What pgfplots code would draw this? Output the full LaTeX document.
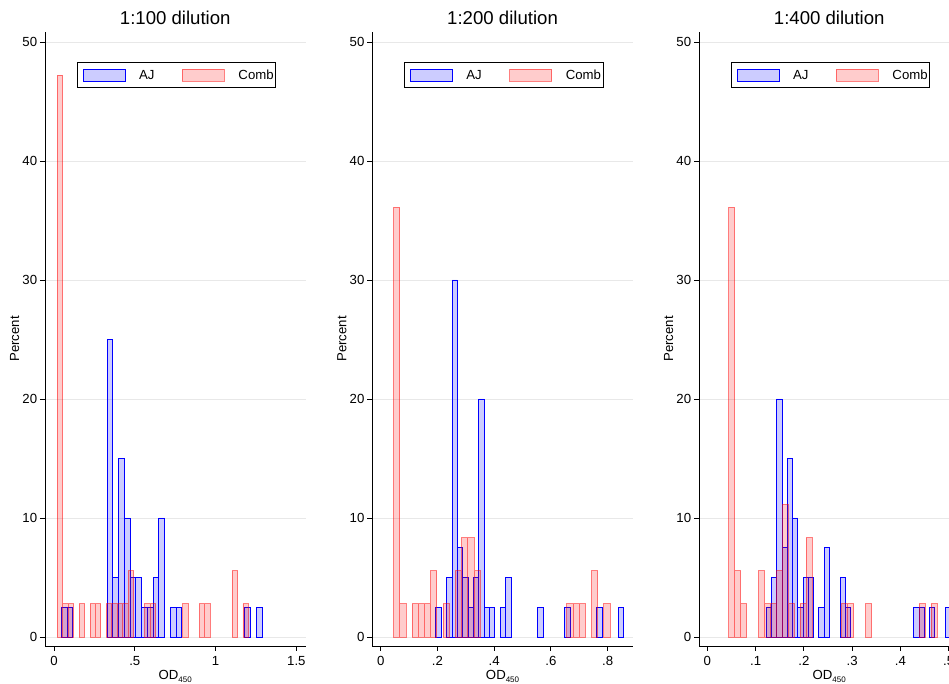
\documentclass[border=0pt]{standalone}
\usepackage{fontspec}
\setmainfont{Liberation Sans}
\usepackage{pgfplots}
\pgfplotsset{compat=1.18}
\definecolor{gridc}{RGB}{232,232,232}
\pgfplotsset{
  panel/.style={
    scale only axis, width=260.5pt, height=614pt, anchor=south west,
    ymin=-0.76, ymax=50.84,
    axis x line*=bottom, axis y line*=left,
    axis line style={black, line width=0.9pt},
    ytick={0,10,20,30,40,50}, yticklabels={0,10,20,30,40,50},
    ymajorgrids,
    grid style={gridc, line width=0.9pt},
    tick align=outside, major tick length=5pt,
    tick style={black, line width=0.9pt},
    minor tick num=0,
    tick label style={font=\fontsize{13.2}{15}\selectfont},
    yticklabel style={inner xsep=2.7pt},
    xticklabel style={inner ysep=5.5pt},
    /pgf/number format/assume math mode=true,
    title style={font=\fontsize{18.6}{22}\selectfont, at={(axis description cs:0.5,1)}, anchor=base, yshift=1pt},
    xlabel={OD\raisebox{-3pt}{\fontsize{8}{9}\selectfont 450}},
    xlabel style={font=\fontsize{13.2}{15}\selectfont, at={(axis description cs:0.5,0)}, anchor=base, yshift=-33.5pt},
    ylabel={Percent},
    ylabel style={font=\fontsize{13.2}{15}\selectfont, at={(axis description cs:-0.0998,0.5)}, anchor=base},
    legend columns=2,
    legend style={at={(axis description cs:0.1216,0.9507)}, anchor=north west, draw=black, line width=0.8pt, fill=white, inner xsep=2pt, inner ysep=6pt, font=\fontsize{13.2}{15}\selectfont, nodes={inner sep=0pt, text depth=0pt}, cells={anchor=west}, /tikz/every even column/.append style={column sep=24pt}},
    legend image code/.code={
      \draw[##1, line width=0.9pt] (4pt,-6pt) rectangle (46pt,6pt);
      \path[draw=none, fill=none] (0pt,0pt) -- (60pt,0pt);
    },
  },
  ajbar/.style={ybar, bar shift=0pt, draw=blue, fill=blue, fill opacity=0.2, draw opacity=1, line width=0.9pt},
  combbar/.style={ybar, bar shift=0pt, draw=red, draw opacity=0.5, fill=red, fill opacity=0.2, line width=0.9pt},
}
\begin{document}
\begin{tikzpicture}
\useasboundingbox (0pt,0pt) rectangle (949pt,684pt);
% ---------- 1:100 ----------
\begin{axis}[panel, at={(45pt,38pt)}, xmin=-0.0557, xmax=1.5563,
  xtick={0,0.5,1,1.5}, xticklabels={0,.5,1,1.5}, title={1:100 dilution}]
\addplot[ajbar, bar width=0.0355] coordinates {
(0.063,2.5)(0.0985,2.5)(0.347,25)(0.3825,5)(0.418,15)(0.4535,10)(0.489,5)(0.5245,5)
(0.56,2.5)(0.5955,2.5)(0.631,5)(0.6665,10)(0.7375,2.5)(0.773,2.5)(1.199,2.5)(1.270,2.5)};
\addplot[combbar, bar width=0.0338] coordinates {
(0.037,47.2222)(0.0708,2.7778)(0.1046,2.7778)(0.1722,2.7778)(0.2398,2.7778)(0.2736,2.7778)
(0.3412,2.7778)(0.375,2.7778)(0.4088,2.7778)(0.4426,2.7778)(0.4764,5.5556)(0.5778,2.7778)
(0.6116,2.7778)(0.8144,2.7778)(0.9158,2.7778)(0.9496,2.7778)(1.1186,5.5556)(1.1862,2.7778)};
\legend{AJ,Comb}
\end{axis}
% ---------- 1:200 ----------
\begin{axis}[panel, at={(372.3pt,38pt)}, xmin=-0.0295, xmax=0.8885,
  xtick={0,0.2,0.4,0.6,0.8}, xticklabels={0,.2,.4,.6,.8}, title={1:200 dilution}]
\addplot[ajbar, bar width=0.0189] coordinates {
(0.2041,2.5)(0.2419,5)(0.2608,30)(0.2797,7.5)(0.2986,5)(0.3175,2.5)(0.3364,5)(0.3553,20)
(0.3742,2.5)(0.3931,2.5)(0.4309,2.5)(0.4498,5)(0.5632,2.5)(0.6577,2.5)(0.7711,2.5)(0.8467,2.5)};
\addplot[combbar, bar width=0.0218] coordinates {
(0.0564,36.1111)(0.0782,2.7778)(0.1218,2.7778)(0.1436,2.7778)(0.1654,2.7778)(0.1872,5.5556)
(0.2308,2.7778)(0.2744,5.5556)(0.2962,8.3333)(0.318,8.3333)(0.3398,5.5556)(0.6668,2.7778)
(0.6886,2.7778)(0.7104,2.7778)(0.754,5.5556)(0.7976,2.7778)};
\legend{AJ,Comb}
\end{axis}
% ---------- 1:400 ----------
\begin{axis}[panel, at={(699pt,38pt)}, xmin=-0.01726, xmax=0.5226,
  xtick={0,0.1,0.2,0.3,0.4,0.5}, xticklabels={0,.1,.2,.3,.4,.5}, title={1:400 dilution}]
\addplot[ajbar, bar width=0.01093] coordinates {
(0.1273,2.5)(0.1383,5)(0.1492,20)(0.1601,7.5)(0.1711,15)(0.1820,10)(0.1929,2.5)(0.2039,5)
(0.2148,5)(0.2366,2.5)(0.2476,7.5)(0.2804,5)(0.2913,2.5)(0.4334,2.5)(0.4443,2.5)(0.4662,2.5)(0.4990,2.5)};
\addplot[combbar, bar width=0.01233] coordinates {
(0.0506,36.1111)(0.0629,5.5556)(0.0752,2.7778)(0.1122,5.5556)(0.1246,2.7778)(0.1369,2.7778)
(0.1492,5.5556)(0.1615,11.1111)(0.1739,2.7778)(0.1985,2.7778)(0.2109,8.3333)(0.2848,2.7778)
(0.2972,2.7778)(0.3342,2.7778)(0.4451,2.7778)(0.4698,2.7778)};
\legend{AJ,Comb}
\end{axis}
\end{tikzpicture}
\end{document}
